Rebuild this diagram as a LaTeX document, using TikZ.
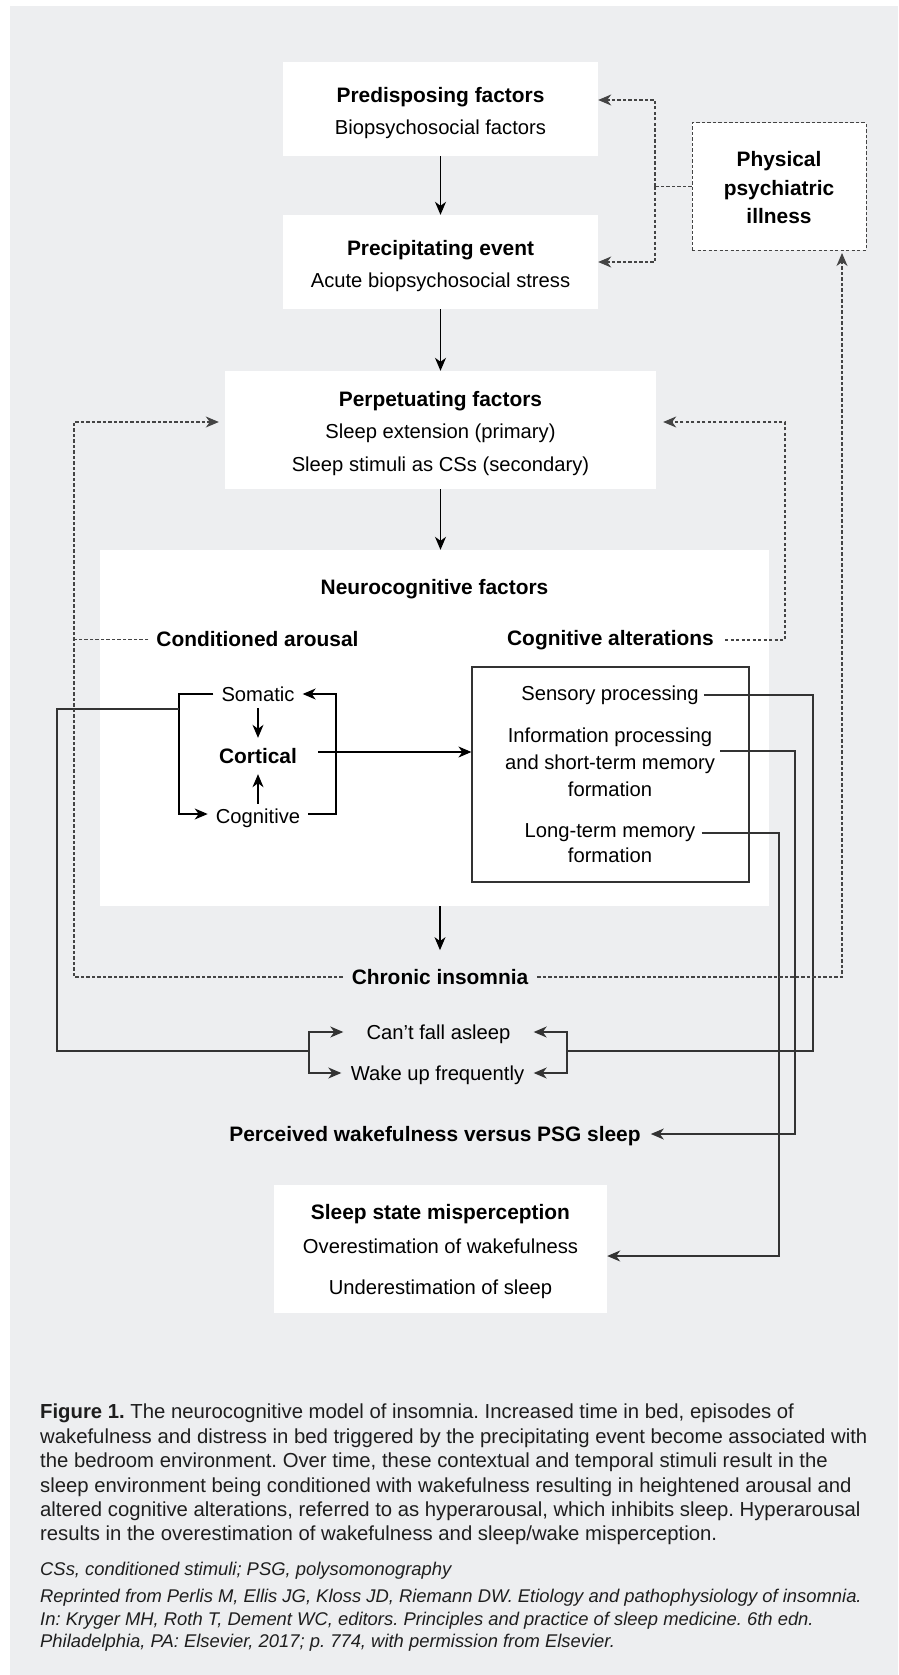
\documentclass[tikz,border=0pt]{standalone}
\usepackage{fontspec}
\setmainfont{Liberation Sans}
\usetikzlibrary{arrows.meta}
\definecolor{bggray}{HTML}{EDEEF0}
\definecolor{linegray}{HTML}{333333}
\definecolor{dashgray}{HTML}{444444}
\definecolor{captext}{HTML}{1E1E1E}
\frenchspacing
\newcommand{\topgap}[1]{\rule{0pt}{#1}}

\begin{document}
\begin{tikzpicture}[x=1pt, y=-1pt,
	every node/.style={font=\fontsize{20.2}{32}\selectfont, align=center, inner sep=0pt},
	panel/.style={fill=white},
	title/.style={font=\bfseries\fontsize{20.9}{32}\selectfont},
	arr/.style={-{Stealth[length=13pt, width=11pt, inset=4pt]}, line width=1.1pt},
	route/.style={draw=linegray, line width=1.4pt},
	dashln/.style={draw=dashgray, line width=1pt, dash pattern=on 3.3pt off 2.2pt},
	caption/.style={anchor=north west, align=left, text=captext, font=\fontsize{20.3}{24.4}\selectfont}]
	\fill[bggray] (10,6) rectangle (898,1675);
	\useasboundingbox (0,0) rectangle (898,1675);

	\node[panel, minimum width=315pt, minimum height=94pt, font=\fontsize{20.2}{32.5}\selectfont] (pred) at (440.5,109) {\topgap{23pt}{\bfseries\fontsize{20.9}{32.5}\selectfont Predisposing factors}\\Biopsychosocial factors};
	\node[panel, minimum width=315pt, minimum height=94pt, font=\fontsize{20.2}{32.5}\selectfont] (prec) at (440.5,262) {\topgap{23pt}{\bfseries\fontsize{20.9}{32.5}\selectfont Precipitating event}\\Acute biopsychosocial stress};
	\node[panel, minimum width=431pt, minimum height=118pt, font=\fontsize{20.2}{32.5}\selectfont] (perp) at (440.5,430) {\topgap{22pt}{\bfseries\fontsize{20.9}{32.5}\selectfont Perpetuating factors}\\Sleep extension (primary)\\Sleep stimuli as CSs (secondary)};
	\node[panel, dashln, text=black, minimum width=174pt, minimum height=127pt, font=\bfseries\fontsize{20.9}{28.5}\selectfont] (phys) at (779,186.5) {\topgap{18pt}Physical\\psychiatric\\illness};

	\node[panel, minimum width=669pt, minimum height=356pt] (neuro) at (434.5,728) {};
	\node[title] (neurot) at (434.5,589) {Neurocognitive factors};
	\node[title, inner xsep=8pt] (condar) at (257.5,639) {Conditioned arousal};
	\node[title, inner xsep=11pt] (cogalt) at (610.5,640) {Cognitive alterations};
	\node[draw=linegray, line width=1.2pt, minimum width=277pt, minimum height=215pt] (cogbox) at (610.5,774.5) {};

	\node[inner xsep=8pt, minimum height=28pt] (somatic) at (258,694) {Somatic};
	\node[title, minimum width=120pt, minimum height=36pt] (cortical) at (258,756) {Cortical};
	\node[inner xsep=8pt, minimum height=28pt] (cognitive) at (258,818) {Cognitive};
	\node[inner xsep=5pt] (sensory) at (610,695) {Sensory processing};
	\node[inner xsep=5pt, font=\fontsize{20.2}{27}\selectfont] (info) at (610,762) {Information processing\\and short-term memory\\formation};
	\node[inner xsep=6pt, font=\fontsize{20.2}{25}\selectfont] (longt) at (610,843) {Long-term memory\\formation};

	\node[title, inner xsep=9pt, inner ysep=3pt] (chronic) at (440,977) {Chronic insomnia};
	\node[minimum width=190pt] (cant) at (438.5,1034) {Can’t fall asleep};
	\node[minimum width=192pt] (wake) at (437.5,1075) {Wake up frequently};
	\node[title, inner xsep=10pt] (perc) at (435,1136) {Perceived wakefulness versus PSG sleep};
	\node[panel, minimum width=333pt, minimum height=128pt, font=\fontsize{20.2}{34}\selectfont] (sstate) at (440.5,1249) {\topgap{20pt}{\bfseries\fontsize{20.9}{34}\selectfont Sleep state misperception}\\Overestimation of wakefulness\\[6.5pt]Underestimation of sleep};

	\coordinate (lb) at (179,709);
	\coordinate (rb) at (336,760);
	\coordinate (lj) at (309,1051);
	\coordinate (rj) at (567,1051);
	\coordinate (sc) at (813,1051);
	\coordinate (ic) at (795,1000);
	\coordinate (lc) at (779,1000);
	\coordinate (ltop) at (74,422);
	\coordinate (rtop) at (785,422);
	\coordinate (pbot) at (842,253);
	\coordinate (pj) at (655,186.5);

	\draw[arr] (pred) -- (prec);
	\draw[arr] (prec) -- (perp);
	\draw[arr] (perp.south) -- (perp.south |- neuro.north);
	\draw[arr, shorten >=16pt] (chronic |- neuro.south) -- (chronic.north);
	\draw[arr] (somatic) -- (cortical);
	\draw[arr] (cognitive) -- (cortical);
	\draw[arr] (somatic.west) -| (lb) |- ([yshift=4pt]cognitive.west);
	\draw[arr] ([yshift=4pt]cognitive.east) -| (rb) |- (somatic.east);
	\draw[arr] ([yshift=4pt]cortical.east) -- ([yshift=4pt]cortical.east -| cogbox.west);

	\draw[route] (lb) -- ++(-122,0) |- (lj);
	\draw[route, arr] (lj) |- ([yshift=2pt]cant.west);
	\draw[route, arr] (lj) |- ([yshift=2pt]wake.west);
	\draw[route] (sensory.east) -| (sc) -- (rj);
	\draw[route, arr] (rj) |- ([yshift=2pt]cant.east);
	\draw[route, arr] (rj) |- ([yshift=2pt]wake.east);
	\draw[route, arr] ([yshift=11pt]info.east) -| (ic) |- ([yshift=2pt]perc.east);
	\draw[route, arr] ([yshift=10pt]longt.east) -| (lc) |- ([yshift=-7pt]sstate.east);

	\draw[dashln] (phys.west) -- (pj);
	\draw[dashln, arr] (pj) |- ([yshift=9pt]pred.east);
	\draw[dashln, arr] (pj) |- (prec.east);
	\draw[dashln, arr, shorten >=6pt] (chronic.west) -| (ltop) -- (perp.west |- ltop);
	\draw[dashln] (condar.west) -- (condar.west -| ltop);
	\draw[dashln, arr, shorten >=7pt] (cogalt.east) -| (rtop) -- (perp.east |- rtop);
	\draw[dashln, arr] (chronic.east) -| (pbot);

	\node[caption] (capmain) at (40,1404) {\textbf{Figure 1.} The neurocognitive model of insomnia. Increased time in bed, episodes of\\
	wakefulness and distress in bed triggered by the precipitating event become associated with\\
	the bedroom environment. Over time, these contextual and temporal stimuli result in the\\
	sleep environment being conditioned with wakefulness resulting in heightened arousal and\\
	altered cognitive alterations, referred to as hyperarousal, which inhibits sleep. Hyperarousal\\
	results in the overestimation of wakefulness and sleep/wake misperception.};
	\node[caption, font=\itshape\fontsize{18.4}{24.8}\selectfont] (capabbr) at (40,1562) {CSs, conditioned stimuli; PSG, polysomonography};
	\node[caption, font=\itshape\fontsize{18.4}{22.6}\selectfont] (capref) at (40,1589) {Reprinted from Perlis M, Ellis JG, Kloss JD, Riemann DW. Etiology and pathophysiology of insomnia.\\
	In: Kryger MH, Roth T, Dement WC, editors. Principles and practice of sleep medicine. 6th edn.\\
	Philadelphia, PA: Elsevier, 2017; p. 774, with permission from Elsevier.};
\end{tikzpicture}
\end{document}
